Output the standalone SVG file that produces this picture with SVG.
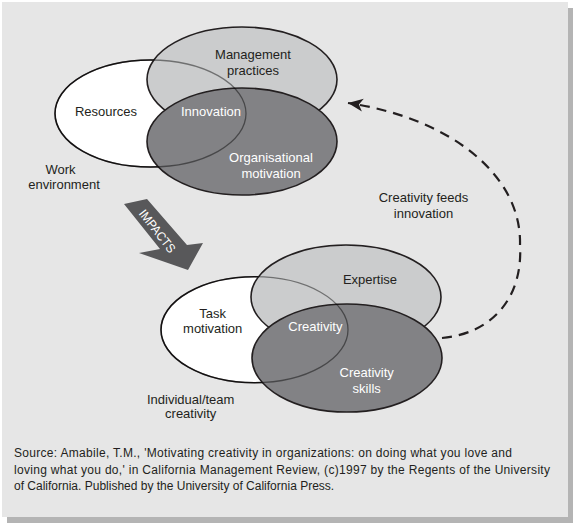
<svg xmlns="http://www.w3.org/2000/svg" width="575" height="527" viewBox="0 0 575 527">
<style>
.lbl{font-family:"Liberation Sans",Arial,sans-serif;font-size:13px;fill:#231f20;text-anchor:middle}
.wl{fill:#ffffff}
.src{font-family:"Liberation Sans",Arial,sans-serif;font-size:12px;fill:#231f20}
.white{fill:#ffffff;stroke:#231f20;stroke-width:1.6}
.light{fill:#cbcccd;stroke:#231f20;stroke-width:1.6}
.dark{fill:#828285;stroke:#231f20;stroke-width:1.6}
.ghost{fill:none;stroke:#000;stroke-opacity:0.45;stroke-width:1.3}
.dash{fill:none;stroke:#231f20;stroke-width:2.2;stroke-dasharray:10 7}
</style>
<defs>
<marker id="head" markerUnits="userSpaceOnUse" markerWidth="20" markerHeight="16" viewBox="-16 -8 18 16" refX="0" refY="0" orient="auto">
<path d="M0,0 L-15,-6.5 L-11,0 L-15,6.5 Z" fill="#231f20"/>
</marker>
</defs>
<rect x="7" y="8" width="566" height="515" fill="#b4b4b4"/>
<rect x="2" y="2" width="566" height="515" fill="#e6e6e6"/>

<g id="node-resources">
<ellipse class="white" cx="150.5" cy="113.5" rx="95.5" ry="53.5"/>
<text class="lbl" x="106" y="115.5">Resources</text>
</g>
<g id="node-management">
<ellipse class="light" cx="242" cy="79.5" rx="95" ry="52.5"/>
<text class="lbl" x="253" y="58.5">Management</text>
<text class="lbl" x="253" y="74.5">practices</text>
</g>
<g id="node-org-motivation">
<ellipse class="dark" cx="242" cy="141.5" rx="95" ry="53.5"/>
<ellipse class="ghost" cx="150.5" cy="113.5" rx="95.5" ry="53.5"/>
<text class="lbl wl" x="271" y="161.5">Organisational</text>
<text class="lbl wl" x="271" y="177.5">motivation</text>
</g>
<g id="node-innovation">
<text class="lbl wl" x="211" y="115.5">Innovation</text>
</g>
<g id="label-work">
<text class="lbl" x="60.5" y="173.5">Work</text>
<text class="lbl" x="64" y="188.5">environment</text>
</g>

<g id="node-task">
<ellipse class="white" cx="254.5" cy="329.7" rx="93.5" ry="53"/>
<text class="lbl" x="212.7" y="317.5">Task</text>
<text class="lbl" x="212.7" y="332.5">motivation</text>
</g>
<g id="node-expertise">
<ellipse class="light" cx="346" cy="297" rx="95" ry="52"/>
<text class="lbl" x="370" y="283.5">Expertise</text>
</g>
<g id="node-skills">
<ellipse class="dark" cx="347" cy="358" rx="95" ry="54"/>
<ellipse class="ghost" cx="254.5" cy="329.7" rx="93.5" ry="53"/>
<text class="lbl wl" x="366.7" y="377">Creativity</text>
<text class="lbl wl" x="366.7" y="392.5">skills</text>
</g>
<g id="node-creativity">
<text class="lbl wl" x="315.4" y="331">Creativity</text>
</g>
<g id="label-individual">
<text class="lbl" x="190.7" y="403.5">Individual/team</text>
<text class="lbl" x="190.7" y="418">creativity</text>
</g>

<g id="connectors">
<g id="impacts">
<polygon points="124,204 147,199 187,245 203,243 188,270 139,253 160,249" fill="#58585a"/>
<text class="lbl wl" transform="translate(157.5,231) rotate(52)" x="0" y="4.5" style="font-size:12.5px" textLength="51" lengthAdjust="spacingAndGlyphs">IMPACTS</text>
</g>
<g id="feeds">
<path class="dash" d="M442,338 C495,333 523,295 520,245 C522,175 450,118 348,103" marker-end="url(#head)"/>
<text class="lbl" x="423.5" y="201.5">Creativity feeds</text>
<text class="lbl" x="423.5" y="217.5">innovation</text>
</g>
</g>

<g id="source">
<text class="src" x="14" y="457" textLength="498" lengthAdjust="spacing">Source: Amabile, T.M., 'Motivating creativity in organizations: on doing what you love and</text>
<text class="src" x="14" y="473.5" textLength="536" lengthAdjust="spacing">loving what you do,' in California Management Review, (c)1997 by the Regents of the University</text>
<text class="src" x="14" y="490">of California. Published by the University of California Press.</text>
</g>
</svg>
